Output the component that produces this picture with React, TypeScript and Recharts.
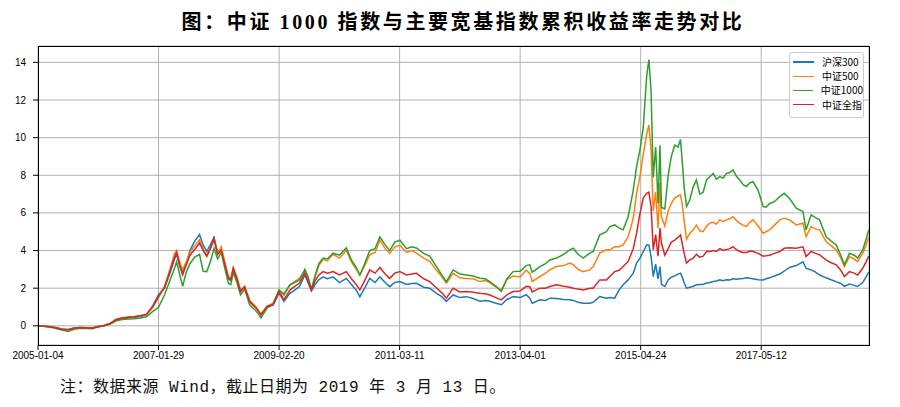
import React from "react";
import { LineChart, Line, XAxis, YAxis, CartesianGrid } from "recharts";

// trading-day index of each sample (0 = 2005-01-04)
const idx = [
  0, 25, 50, 75, 100, 125, 150, 175, 200, 225,
  250, 275, 300, 325, 350, 375, 400, 425, 450, 475,
  500, 525, 550, 565, 575, 590, 600, 615, 630, 650,
  670, 685, 700, 715, 730, 745, 760, 775, 790, 800,
  810, 825, 840, 857, 878, 905, 925, 950, 975, 1000,
  1020, 1045, 1065, 1085, 1107, 1120, 1134, 1150, 1165, 1183,
  1200, 1224, 1250, 1279, 1300, 1320, 1335, 1355, 1376, 1398,
  1418, 1440, 1459, 1480, 1501, 1529, 1550, 1570, 1600, 1625,
  1650, 1675, 1694, 1722, 1750, 1777, 1805, 1833, 1855, 1874,
  1900, 1922, 1945, 1971, 2000, 2025, 2040, 2050, 2082, 2105,
  2123, 2151, 2180, 2206, 2220, 2240, 2261, 2289, 2303, 2330,
  2358, 2372, 2392, 2410, 2427, 2448, 2469, 2483, 2497, 2511,
  2525, 2534, 2543, 2552, 2562, 2572, 2580, 2586, 2600,
  2614, 2627, 2641, 2655, 2665, 2672, 2680, 2690, 2704, 2718,
  2731, 2745, 2759, 2773, 2787, 2801, 2814, 2828, 2842, 2856,
  2870, 2883, 2897, 2911, 2925, 2939, 2952, 2966, 2987, 3008,
  3020, 3035, 3055, 3077, 3095, 3117, 3145, 3173, 3186,
  3207, 3225, 3242, 3269, 3290, 3311, 3330, 3345, 3366, 3385,
  3400, 3421, 3435, 3446,
];

const hs300 = [
  0, -0.02, -0.05, -0.1, -0.17, -0.2, -0.12, -0.09, -0.1, -0.11,
  -0.04, 0.02, 0.12, 0.3, 0.38, 0.42, 0.45, 0.5, 0.6, 1.05,
  1.65, 2.0, 2.9, 3.5, 3.8, 3.1, 2.9, 3.3, 4.0, 4.5,
  4.85, 4.3, 3.95, 4.3, 4.7, 3.9, 4.1, 3.3, 2.5, 2.4,
  3.0, 2.5, 1.85, 2.05, 1.3, 0.95, 0.6, 1.0, 1.1, 1.75,
  1.3, 1.73, 1.9, 2.09, 2.7, 2.3, 1.85, 2.2, 2.45, 2.6,
  2.5, 2.6, 2.3, 2.52, 2.2, 1.9, 1.55, 2.0, 2.52, 2.3,
  2.6, 2.3, 2.08, 2.3, 2.35, 2.2, 2.25, 2.26, 2.05, 2.0,
  1.75, 1.55, 1.3, 1.64, 1.5, 1.55, 1.45, 1.3, 1.35, 1.3,
  1.2, 1.12, 1.4, 1.55, 1.5, 1.65, 1.47, 1.2, 1.38, 1.35,
  1.47, 1.45, 1.4, 1.38, 1.35, 1.25, 1.2, 1.2, 1.25, 1.56,
  1.47, 1.5, 1.47, 1.9, 2.18, 2.44, 2.8, 3.33, 3.6, 3.95,
  4.3, 4.3, 3.68, 2.62, 3.28, 2.5, 3.15, 2.2, 2.09,
  2.44, 2.58, 2.65, 2.75, 2.8, 2.6, 2.3, 2.0, 2.05, 2.1,
  2.18, 2.2, 2.2, 2.27, 2.3, 2.35, 2.38, 2.44, 2.4, 2.45,
  2.44, 2.5, 2.48, 2.5, 2.52, 2.55, 2.53, 2.5, 2.45, 2.44,
  2.5, 2.55, 2.65, 2.75, 2.9, 3.1, 3.2, 3.4, 3.06,
  2.97, 2.85, 2.7, 2.55, 2.45, 2.35, 2.25, 2.1, 2.22, 2.15,
  2.09, 2.3, 2.6, 2.85,
];

const zz500 = [
  0, -0.01, -0.04, -0.1, -0.18, -0.22, -0.13, -0.1, -0.1, -0.12,
  -0.04, 0.03, 0.14, 0.36, 0.43, 0.47, 0.5, 0.55, 0.62, 1.0,
  1.5, 2.1, 3.1, 3.8, 4.0, 3.3, 3.0, 3.4, 3.9, 4.25,
  4.57, 4.1, 3.7, 4.1, 4.55, 3.8, 4.2, 3.4, 2.6, 2.5,
  3.1, 2.6, 1.9, 2.1, 1.35, 1.0, 0.62, 1.05, 1.2, 1.9,
  1.6, 2.18, 2.35, 2.53, 2.95, 2.6, 1.95, 2.6, 3.2, 3.55,
  3.45, 3.8, 3.6, 4.0, 3.4, 3.0, 2.7, 3.2, 3.77, 3.9,
  4.55, 4.1, 3.85, 4.2, 4.28, 3.9, 4.0, 3.86, 3.6, 3.43,
  3.0, 2.6, 2.26, 2.79, 2.55, 2.52, 2.5, 2.35, 2.4, 2.3,
  2.05, 1.9, 2.45, 2.65, 2.6, 2.95, 2.79, 2.35, 2.62, 2.8,
  2.97, 3.15, 3.2, 3.33, 3.25, 3.0, 2.88, 2.97, 3.15, 3.86,
  4.04, 4.04, 4.2, 4.2, 4.3, 4.74, 5.7, 7.04, 7.93, 9.17,
  10.2, 10.67, 9.35, 6.1, 7.1, 5.2, 7.6, 5.8, 5.3,
  6.1, 6.5, 6.8, 6.9, 6.96, 6.5, 5.6, 4.6, 4.92, 5.1,
  5.35, 5.05, 5.0, 5.3, 5.45, 5.5, 5.4, 5.63, 5.55, 5.63,
  5.7, 5.8, 5.6, 5.45, 5.35, 5.27, 5.5, 5.63, 5.3, 4.92,
  5.0, 5.1, 5.35, 5.63, 5.72, 5.63, 5.36, 5.45, 4.74,
  5.27, 5.15, 5.1, 4.48, 4.25, 4.04, 3.6, 3.15, 3.68, 3.55,
  3.42, 3.86, 4.3, 4.7,
];

const zz1000 = [
  0, -0.03, -0.07, -0.14, -0.23, -0.3, -0.18, -0.13, -0.14, -0.15,
  -0.07, 0, 0.09, 0.27, 0.34, 0.36, 0.37, 0.42, 0.48, 0.75,
  0.98, 1.65, 2.5, 3.0, 3.4, 2.6, 2.1, 2.85, 3.3, 3.65,
  3.8, 2.9, 2.88, 3.4, 4.12, 3.55, 3.9, 3.05, 2.25, 2.2,
  2.85, 2.3, 1.65, 1.95, 1.12, 0.78, 0.42, 0.94, 1.15, 1.9,
  1.7, 2.18, 2.3, 2.44, 3.0, 2.6, 1.95, 2.7, 3.3, 3.6,
  3.55, 3.86, 3.75, 4.14, 3.5, 3.1, 2.7, 3.3, 4.0, 4.1,
  4.73, 4.3, 4.0, 4.45, 4.55, 4.1, 4.2, 4.14, 3.85, 3.7,
  3.2, 2.7, 2.35, 2.97, 2.75, 2.7, 2.65, 2.53, 2.5, 2.35,
  2.1, 1.82, 2.5, 2.88, 2.9, 3.2, 3.24, 2.85, 3.15, 3.3,
  3.5, 3.6, 3.8, 4.04, 4.12, 3.8, 3.6, 3.86, 3.95, 4.83,
  5.0, 5.27, 5.36, 5.2, 5.1, 5.8, 7.2, 8.46, 9.35, 10.6,
  13.3, 14.15, 12.5, 7.9, 9.5, 6.5, 9.6, 6.3, 6.2,
  8.0, 9.0, 9.6, 9.5, 9.9, 8.8, 7.4, 6.34, 6.7, 7.4,
  7.75, 7.0, 7.1, 7.75, 7.93, 8.1, 7.8, 7.93, 7.85, 8.1,
  8.15, 8.28, 7.95, 7.75, 7.5, 7.4, 7.6, 7.66, 7.2, 6.34,
  6.3, 6.5, 6.6, 6.87, 7.04, 6.78, 6.25, 6.07, 5.1,
  5.9, 5.75, 5.63, 4.74, 4.5, 4.3, 3.75, 3.24, 3.86, 3.75,
  3.6, 4.04, 4.6, 5.1,
];

const zzqz = [
  0, -0.02, -0.05, -0.1, -0.18, -0.21, -0.12, -0.09, -0.1, -0.11,
  -0.04, 0.02, 0.13, 0.34, 0.41, 0.45, 0.48, 0.53, 0.6, 0.98,
  1.56, 2.05, 3.0, 3.6, 3.9, 3.1, 2.7, 3.25, 3.75, 4.05,
  4.4, 4.0, 3.7, 4.1, 4.65, 3.8, 4.0, 3.25, 2.55, 2.45,
  3.05, 2.5, 1.82, 2.08, 1.29, 0.94, 0.58, 1.03, 1.12, 1.82,
  1.38, 1.9, 2.1, 2.27, 2.8, 2.4, 1.9, 2.4, 2.7, 2.88,
  2.8, 2.88, 2.7, 2.88, 2.5, 2.2, 1.9, 2.4, 2.97, 2.8,
  3.1, 2.75, 2.52, 2.8, 2.88, 2.7, 2.75, 2.79, 2.5, 2.35,
  2.05, 1.75, 1.47, 2.0, 1.8, 1.82, 1.78, 1.73, 1.7, 1.64,
  1.5, 1.38, 1.65, 1.82, 1.85, 2.1, 2.08, 1.8, 2.0, 2.0,
  2.09, 2.18, 2.1, 2.05, 2.0, 1.95, 1.91, 2.0, 2.0, 2.44,
  2.44, 2.62, 2.88, 2.95, 3.15, 3.42, 4.1, 4.92, 5.98, 6.8,
  7.04, 7.1, 6.34, 4.04, 4.85, 3.7, 5.2, 4.4, 3.75,
  4.1, 4.45, 4.55, 4.7, 4.83, 4.4, 3.86, 3.33, 3.5, 3.6,
  3.8, 3.65, 3.7, 3.95, 3.95, 4.0, 3.95, 4.1, 4.02, 4.05,
  4.1, 4.2, 4.05, 3.95, 3.9, 3.9, 3.97, 3.95, 3.85, 3.7,
  3.72, 3.75, 3.85, 3.95, 4.12, 4.15, 4.12, 4.2, 3.68,
  3.95, 3.85, 3.77, 3.5, 3.35, 3.24, 2.95, 2.62, 2.88, 2.8,
  2.7, 3.06, 3.4, 3.7,
];

const xTicks = [0, 500, 1000, 1500, 2000, 2500, 3000];
const xLabels = ["2005-01-04", "2007-01-29", "2009-02-20", "2011-03-11", "2013-04-01", "2015-04-24", "2017-05-12"];
const yTicks = [0, 2, 4, 6, 8, 10, 12, 14];

const seriesNames = ["沪深300", "中证500", "中证1000", "中证全指"];
const seriesKeys = ["hs300", "zz500", "zz1000", "zzqz"];
const seriesColors = ["#1f77b4", "#ff7f0e", "#2ca02c", "#d62728"];
const seriesValues = [hs300, zz500, zz1000, zzqz];

const title = "图：中证 1000 指数与主要宽基指数累积收益率走势对比";
const note = "注：数据来源 Wind，截止日期为 2019 年 3 月 13 日。";

const rows = idx.map((i, k) => {
  const r: Record<string, number> = { idx: i };
  seriesKeys.forEach((key, s) => {
    r[key] = seriesValues[s][k];
  });
  return r;
});

const tickFont = { fontSize: 10, fill: "#000", fontFamily: "'Liberation Sans', Arial, sans-serif" };

export default function App() {
  return (
    <div
      style={{
        position: "absolute",
        left: 0,
        top: 0,
        width: 900,
        height: 407,
        background: "#fff",
        overflow: "hidden",
      }}
    >
      <div
        style={{
          position: "absolute",
          left: 13,
          top: 11,
          width: 900,
          textAlign: "center",
          fontSize: 20,
          lineHeight: "22px",
          fontWeight: "bold",
          letterSpacing: 2.6,
          color: "#000",
          fontFamily: "'Liberation Serif', 'Noto Sans CJK SC', serif",
        }}
      >
        {title}
      </div>
      <LineChart
        width={900}
        height={407}
        data={rows}
        margin={{ top: 46, right: 31, bottom: 42, left: 8 }}
      >
        <CartesianGrid stroke="#b0b0b0" strokeWidth={1} />
        <XAxis
          dataKey="idx"
          type="number"
          domain={[0, 3447]}
          ticks={xTicks}
          tickFormatter={(v: number) => xLabels[xTicks.indexOf(v)] ?? ""}
          height={20}
          tickSize={5}
          tickMargin={2}
          axisLine={false}
          tickLine={{ stroke: "#000" }}
          tick={tickFont}
          allowDataOverflow
        />
        <YAxis
          type="number"
          domain={[-1.02, 14.87]}
          ticks={yTicks}
          width={30}
          tickSize={5}
          tickMargin={7}
          axisLine={false}
          tickLine={{ stroke: "#000" }}
          tick={tickFont}
          allowDataOverflow
        />
        {seriesKeys.map((key, s) => (
          <Line
            key={key}
            type="linear"
            dataKey={key}
            name={seriesNames[s]}
            stroke={seriesColors[s]}
            strokeWidth={1.5}
            dot={false}
            activeDot={false}
            isAnimationActive={false}
          />
        ))}
      </LineChart>
      {/* plot frame */}
      <div
        style={{
          position: "absolute",
          left: 38,
          top: 46,
          width: 832,
          height: 300,
          boxSizing: "border-box",
          border: "1px solid #000",
          pointerEvents: "none",
        }}
      />
      {/* legend */}
      <div
        style={{
          position: "absolute",
          left: 789,
          top: 52,
          width: 75,
          boxSizing: "border-box",
          border: "1px solid #cccccc",
          borderRadius: 3,
          background: "rgba(255,255,255,0.8)",
          padding: "2px 0 5px 0",
          fontFamily: "'Noto Sans CJK SC', sans-serif",
          fontSize: 10,
          color: "#000",
        }}
      >
        {seriesNames.map((n, s) => (
          <div key={n} style={{ display: "flex", alignItems: "center", height: 14.2 }}>
            <div style={{ width: 21, height: 1.5, background: seriesColors[s], marginLeft: 3, marginRight: 8 }} />
            <span style={{ lineHeight: "14px", whiteSpace: "nowrap" }}>{n}</span>
          </div>
        ))}
      </div>
      <div
        style={{
          position: "absolute",
          left: 60,
          top: 378,
          fontSize: 16,
          lineHeight: "20px",
          color: "#111",
          letterSpacing: 0.5,
          whiteSpace: "nowrap",
          fontFamily: "'Liberation Mono', 'Noto Sans CJK SC', monospace",
        }}
      >
        {note}
      </div>
    </div>
  );
}
